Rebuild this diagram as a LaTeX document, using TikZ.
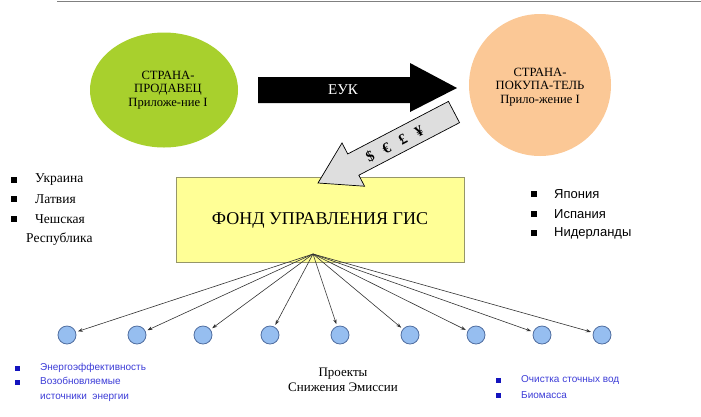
\documentclass[tikz,border=0pt]{standalone}
\usepackage{fontspec}
\setmainfont{Liberation Serif}
\newfontfamily\arialfont{Liberation Sans}
\usetikzlibrary{shapes.geometric, arrows.meta}

\definecolor{sellerGreen}{RGB}{168,208,45}
\definecolor{buyerOrange}{RGB}{251,200,150}
\definecolor{fundYellow}{RGB}{255,255,150}
\definecolor{fundBorder}{RGB}{150,150,105}
\definecolor{projFill}{RGB}{150,190,240}
\definecolor{projBorder}{RGB}{80,110,160}
\definecolor{listBlue}{RGB}{60,60,215}
\definecolor{bulletBlue}{RGB}{20,20,190}

\begin{document}
\begin{tikzpicture}[x=1pt, y=-1pt, >={Stealth[length=5pt, width=3.5pt]},
    countryStyle/.style={inner sep=0pt, align=center, font=\fontsize{12.6}{13.2}\selectfont},
    projStyle/.style={circle, draw=projBorder, fill=projFill, line width=0.8pt, minimum size=18pt, inner sep=0pt},
    squareStyle/.style={rectangle, fill=black, minimum size=6.5pt, inner sep=0pt},
    blueSquareStyle/.style={rectangle, fill=bulletBlue, minimum size=5pt, inner sep=0pt},
    itemStyle/.style={anchor=west, inner sep=0pt, font=\fontsize{13.5}{15}\selectfont},
    sansItemStyle/.style={anchor=west, inner sep=0pt, font=\arialfont\fontsize{13}{15}\selectfont},
    blueItemStyle/.style={anchor=west, inner sep=0pt, text=listBlue, align=left, font=\arialfont\fontsize{10}{15}\selectfont},
    fanStyle/.style={->, draw={rgb,255:red,50;green,50;blue,50}, line width=0.6pt, shorten >=2pt}]
                    \useasboundingbox (0,0) rectangle (701,416);
                    \draw[gray, line width=1pt] (57,1) -- (701,1);

                    % countries
                    \node[ellipse, fill=sellerGreen, minimum width=148pt, minimum height=115pt] (seller) at (164, 90) {};
                    \node[countryStyle] (seller_txt) at (168, 90) {СТРАНА-\\ПРОДАВЕЦ\\Приложе-ние I};

                    \node[circle, fill=buyerOrange, minimum size=142pt, inner sep=0pt] (buyer) at (540, 85) {};
                    \node[countryStyle] (buyer_txt) at (540, 87) {СТРАНА-\\ПОКУПА-ТЕЛЬ\\Прило-жение I};

                    \fill[black] (258,77) -- (410,77) -- (410,63) -- (457,88) -- (410,112) -- (410,103) -- (258,103) -- cycle;
                    \node[text=white, font=\fontsize{15}{17}\selectfont] (euk) at (343, 90) {ЕУК};

                    % fund
                    \node[rectangle, draw=fundBorder, fill=fundYellow, line width=0.8pt, minimum width=288pt, minimum height=85pt] (fund) at (320, 219.5) {};
                    \node[font=\fontsize{18}{20}\selectfont] (fund_txt) at (320, 220) {ФОНД УПРАВЛЕНИЯ ГИС};

                    \begin{scope}[shift={(318,183)}, rotate=27.56]
                        \filldraw[fill={rgb,255:red,222;green,222;blue,222}, draw=black, line width=0.7pt, line join=miter]
                            (0,0) -- (39.8,24.4) -- (39.8,12) -- (153.4,12) -- (153.4,-12) -- (39.8,-12) -- (39.8,-24.4) -- cycle;
                        \node[rotate=27.56, font=\bfseries\fontsize{15}{17}\selectfont] (money) at (86,1) {\$\hspace{11pt}€\hspace{11pt}£\hspace{11pt}¥};
                    \end{scope}

                    % seller list
                    \node[squareStyle] (l_b0) at (14, 180) {};
                    \node[itemStyle] (l_0) at (35, 180) {Украина};
                    \node[squareStyle] (l_b1) at (14, 199) {};
                    \node[itemStyle] (l_1) at (35, 199) {Латвия};
                    \node[squareStyle] (l_b2) at (14, 219) {};
                    \node[itemStyle] (l_2) at (35, 219) {Чешская};
                    \node[itemStyle] (l_3) at (26, 239) {Республика};

                    % buyer list
                    \node[squareStyle] (r_b0) at (534, 194) {};
                    \node[sansItemStyle] (r_0) at (554, 194) {Япония};
                    \node[squareStyle] (r_b1) at (534, 214) {};
                    \node[sansItemStyle] (r_1) at (554, 214) {Испания};
                    \node[squareStyle] (r_b2) at (534, 233) {};
                    \node[sansItemStyle] (r_2) at (554, 233) {Нидерланды};

                    % projects
                    \coordinate (hub) at (313, 254);
                    \node[projStyle] (proj_1) at ( 67, 335) {};
                    \node[projStyle] (proj_2) at (137, 335) {};
                    \node[projStyle] (proj_3) at (203, 335) {};
                    \node[projStyle] (proj_4) at (270, 335) {};
                    \node[projStyle] (proj_5) at (340, 335) {};
                    \node[projStyle] (proj_6) at (410, 335) {};
                    \node[projStyle] (proj_7) at (476, 335) {};
                    \node[projStyle] (proj_8) at (542, 335) {};
                    \node[projStyle] (proj_9) at (602, 335) {};

                    \draw[fanStyle] (hub) -- (proj_1);
                    \draw[fanStyle] (hub) -- (proj_2);
                    \draw[fanStyle] (hub) -- (proj_3);
                    \draw[fanStyle] (hub) -- (proj_4);
                    \draw[fanStyle] (hub) -- (proj_5);
                    \draw[fanStyle] (hub) -- (proj_6);
                    \draw[fanStyle] (hub) -- (proj_7);
                    \draw[fanStyle] (hub) -- (proj_8);
                    \draw[fanStyle] (hub) -- (proj_9);

                    \node[align=center, inner sep=0pt, font=\fontsize{13}{15}\selectfont] (proj_txt) at (343, 379.5) {Проекты\\Снижения Эмиссии};

                    % project lists
                    \node[blueSquareStyle] (pl_b0) at (17, 368) {};
                    \node[blueItemStyle] (pl_0) at (40, 368) {Энергоэффективность};
                    \node[blueSquareStyle] (pl_b1) at (17, 382) {};
                    \node[blueItemStyle, anchor=north west] (pl_1) at (40, 376.5) {Возобновляемые\\источники\ \ энергии};

                    \node[blueSquareStyle] (pr_b0) at (498, 380) {};
                    \node[blueItemStyle] (pr_0) at (521, 380) {Очистка сточных вод};
                    \node[blueSquareStyle] (pr_b1) at (498, 395) {};
                    \node[blueItemStyle] (pr_1) at (521, 395) {Биомасса};
                \end{tikzpicture}
\end{document}
